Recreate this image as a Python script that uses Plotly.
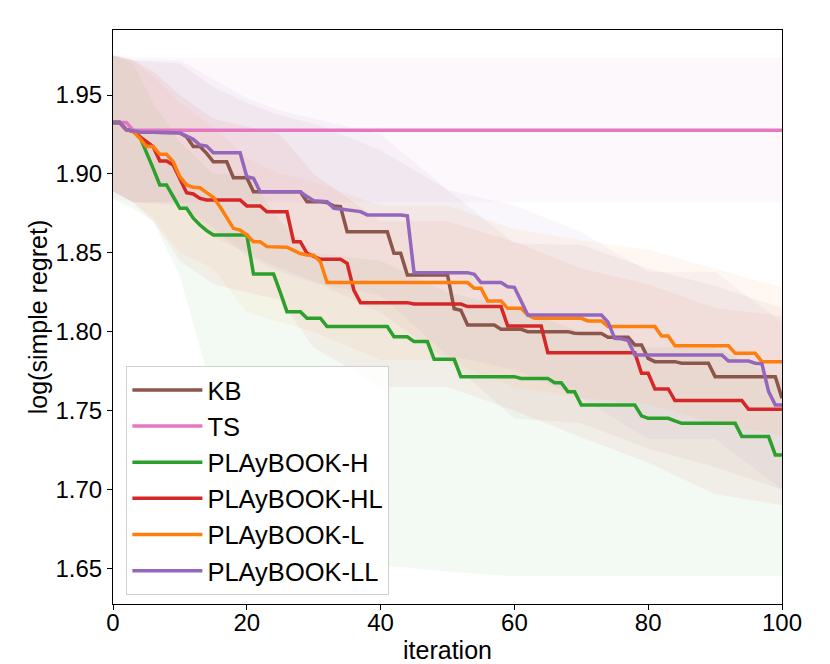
import plotly.graph_objs as go


# mean curves, (iteration, value) at the corners of each line
kb = [(0, 1.9325), (1, 1.9325), (2, 1.928), (3, 1.927), (4, 1.9265), (8, 1.9262), (10, 1.926),
      (11, 1.9236), (12, 1.9173), (13, 1.9173), (14, 1.913), (15, 1.9077), (17, 1.9077), (18, 1.8976),
      (20, 1.8976), (21, 1.8887), (28, 1.8887), (29, 1.8824), (31, 1.8824), (32, 1.8818), (33, 1.8797),
      (34, 1.8793), (35, 1.8634), (41, 1.8634), (42, 1.8497), (43, 1.8497), (44, 1.8359), (50, 1.8359),
      (51, 1.8145), (52, 1.8135), (53, 1.8042), (57, 1.8042), (58, 1.8015), (61, 1.8015), (62, 1.80),
      (68, 1.80), (69, 1.799), (70, 1.7988), (73, 1.7988), (74, 1.7964), (77, 1.7964), (78, 1.7916),
      (79, 1.7916), (80, 1.7831), (81, 1.781), (84, 1.781), (85, 1.78), (89, 1.78), (90, 1.7715),
      (99, 1.7715), (100, 1.7578)]

ts = [(0, 1.9325), (2, 1.9325), (3, 1.9277), (100, 1.9277)]

pb_h = [(0, 1.9325), (1, 1.9325), (2, 1.928), (3, 1.927), (4, 1.9236), (5, 1.9141), (6, 1.9035),
        (7, 1.893), (8, 1.893), (9, 1.8856), (10, 1.8782), (11, 1.8782), (12, 1.8719), (13, 1.8676),
        (14, 1.864), (15, 1.8613), (20, 1.8613), (21, 1.8366), (24, 1.8366), (25, 1.825), (26, 1.8127),
        (28, 1.8127), (29, 1.8085), (31, 1.8085), (32, 1.8032), (41, 1.8032), (42, 1.7968), (44, 1.7968),
        (45, 1.7937), (47, 1.7937), (48, 1.7825), (51, 1.7825), (52, 1.7715), (60, 1.7715), (61, 1.7704),
        (65, 1.7704), (66, 1.7677), (67, 1.7677), (68, 1.762), (69, 1.762), (70, 1.7535), (78, 1.7535),
        (79, 1.7466), (80, 1.7451), (83, 1.7451), (84, 1.7434), (85, 1.7419), (93, 1.7419), (94, 1.7335),
        (98, 1.7335), (99, 1.7219), (100, 1.7219)]

pb_hl = [(0, 1.9325), (1, 1.9325), (2, 1.928), (3, 1.927), (4, 1.9236), (5, 1.9204), (6, 1.9172),
         (7, 1.9082), (8, 1.9082), (9, 1.9056), (10, 1.8972), (11, 1.8881), (12, 1.8873), (13, 1.8845),
         (14, 1.8835), (19, 1.8835), (20, 1.8797), (22, 1.8797), (23, 1.876), (26, 1.876), (27, 1.857),
         (28, 1.857), (29, 1.8497), (30, 1.8475), (31, 1.8459), (34, 1.8459), (35, 1.8433), (36, 1.8264),
         (37, 1.8184), (44, 1.8184), (45, 1.8175), (52, 1.8175), (53, 1.8159), (58, 1.8159), (59, 1.8036),
         (64, 1.8036), (65, 1.7867), (78, 1.7867), (79, 1.7736), (80, 1.7736), (81, 1.7637), (83, 1.7637),
         (84, 1.7563), (94, 1.7563), (95, 1.7508), (100, 1.7508)]

pb_l = [(0, 1.9325), (1, 1.9325), (2, 1.928), (3, 1.927), (4, 1.9226), (5, 1.9173), (6, 1.9173),
        (7, 1.9124), (8, 1.9124), (9, 1.9077), (10, 1.8982), (11, 1.893), (12, 1.8915), (13, 1.8912),
        (14, 1.8881), (15, 1.8852), (16, 1.8792), (17, 1.8719), (18, 1.8655), (19, 1.8644), (20, 1.8613),
        (21, 1.857), (22, 1.857), (23, 1.8539), (26, 1.8535), (27, 1.8515), (28, 1.8495), (29, 1.8486),
        (30, 1.8484), (31, 1.8444), (32, 1.8311), (53, 1.8311), (54, 1.8275), (55, 1.8275), (56, 1.8195),
        (58, 1.8195), (59, 1.8148), (61, 1.8148), (62, 1.8106), (63, 1.8085), (70, 1.8085), (71, 1.8068),
        (73, 1.8068), (74, 1.8032), (81, 1.8032), (82, 1.7973), (83, 1.7973), (84, 1.7911), (92, 1.7911),
        (93, 1.7863), (96, 1.7863), (97, 1.781), (100, 1.781)]

pb_ll = [(0, 1.9325), (1, 1.9325), (2, 1.928), (3, 1.927), (4, 1.9265), (8, 1.9262), (10, 1.926),
         (11, 1.924), (12, 1.9219), (13, 1.9183), (14, 1.9176), (15, 1.9134), (19, 1.9134), (20, 1.8982),
         (21, 1.8972), (22, 1.8887), (28, 1.8887), (29, 1.8856), (30, 1.883), (32, 1.8824), (33, 1.8782),
         (34, 1.8778), (35, 1.8771), (36, 1.8765), (37, 1.8761), (38, 1.874), (43, 1.874), (44, 1.8734),
         (45, 1.8374), (53, 1.8374), (54, 1.8364), (55, 1.8311), (58, 1.8311), (59, 1.8285), (60, 1.8281),
         (61, 1.8195), (62, 1.8106), (73, 1.8106), (74, 1.806), (75, 1.7958), (76, 1.7955), (77, 1.7944),
         (78, 1.7852), (91, 1.7852), (92, 1.7814), (95, 1.7814), (96, 1.78), (97, 1.7796), (98, 1.762),
         (99, 1.7535), (100, 1.7535)]

# shaded spread, upper / lower edge at these iterations
band_x = [0, 3, 6, 10, 15, 20, 25, 30, 40, 50, 60, 70, 80, 90, 100]

kb_hi = [1.975, 1.972, 1.971, 1.970, 1.955, 1.945, 1.937, 1.932, 1.915, 1.89, 1.856, 1.855, 1.84, 1.829, 1.815]
kb_lo = [1.889, 1.882, 1.882, 1.882, 1.86, 1.85, 1.84, 1.832, 1.812, 1.782, 1.745, 1.742, 1.726, 1.714, 1.70]
ts_hi = [1.975, 1.974, 1.974, 1.974, 1.974, 1.974, 1.974, 1.974, 1.974, 1.974, 1.974, 1.974, 1.974, 1.974, 1.974]
ts_lo = [1.884, 1.882, 1.882, 1.882, 1.882, 1.882, 1.882, 1.882, 1.882, 1.882, 1.882, 1.882, 1.882, 1.882, 1.882]
h_hi = [1.975, 1.97, 1.945, 1.92, 1.90, 1.90, 1.87, 1.85, 1.845, 1.825, 1.815, 1.80, 1.79, 1.79, 1.77]
h_lo = [1.884, 1.878, 1.87, 1.835, 1.76, 1.69, 1.66, 1.655, 1.652, 1.648, 1.645, 1.645, 1.645, 1.645, 1.645]
hl_hi = [1.975, 1.972, 1.965, 1.95, 1.935, 1.93, 1.925, 1.90, 1.87, 1.87, 1.857, 1.84, 1.83, 1.815, 1.81]
hl_lo = [1.889, 1.882, 1.87, 1.845, 1.83, 1.825, 1.82, 1.79, 1.765, 1.765, 1.75, 1.733, 1.717, 1.697, 1.69]
l_hi = [1.975, 1.972, 1.962, 1.945, 1.93, 1.91, 1.90, 1.895, 1.88, 1.88, 1.865, 1.858, 1.852, 1.84, 1.828]
l_lo = [1.889, 1.882, 1.872, 1.85, 1.84, 1.812, 1.806, 1.80, 1.782, 1.782, 1.765, 1.758, 1.754, 1.742, 1.734]
ll_hi = [1.976, 1.972, 1.972, 1.972, 1.96, 1.948, 1.94, 1.935, 1.925, 1.89, 1.88, 1.863, 1.838, 1.838, 1.806]
ll_lo = [1.889, 1.882, 1.881, 1.88, 1.866, 1.848, 1.838, 1.831, 1.823, 1.785, 1.776, 1.758, 1.732, 1.732, 1.70]

y_ticks = [1.65, 1.70, 1.75, 1.80, 1.85, 1.90, 1.95]
x_ticks = [0, 20, 40, 60, 80, 100]

series = [
    ('KB', kb, kb_hi, kb_lo, (140, 86, 75)),
    ('TS', ts, ts_hi, ts_lo, (227, 119, 194)),
    ('PLAyBOOK-H', pb_h, h_hi, h_lo, (44, 160, 44)),
    ('PLAyBOOK-HL', pb_hl, hl_hi, hl_lo, (214, 39, 40)),
    ('PLAyBOOK-L', pb_l, l_hi, l_lo, (255, 127, 14)),
    ('PLAyBOOK-LL', pb_ll, ll_hi, ll_lo, (148, 103, 189)),
]

FONT = 'Liberation Sans, Arial, sans-serif'

fig = go.Figure()

# bands first so the lines sit on top
for name, pts, hi, lo, c in series:
    fig.add_trace(go.Scatter(x=band_x + band_x[::-1], y=hi + lo[::-1],
                             fill='toself', fillcolor='rgba(%d,%d,%d,0.055)' % c,
                             line=dict(width=0), mode='lines',
                             hoverinfo='skip', showlegend=False))

for name, pts, hi, lo, c in series:
    xs = [p[0] for p in pts]
    ys = [p[1] for p in pts]
    fig.add_trace(go.Scatter(x=xs, y=ys, mode='lines', name=name,
                             line=dict(color='rgb(%d,%d,%d)' % c, width=3.5)))

axis_style = dict(showline=True, linecolor='black', linewidth=1.2, mirror=True,
                  ticks='outside', ticklen=5, tickwidth=1.2, tickcolor='black',
                  showgrid=False, zeroline=False, automargin=False,
                  tickfont=dict(size=24, color='black', family=FONT))

# page body adds an 8px offset, so the figure is 8px smaller than the window
fig.update_layout(
    width=822, height=656,
    margin=dict(l=105, r=48, t=22, b=60),
    plot_bgcolor='white', paper_bgcolor='white',
    font=dict(family=FONT, color='black'),
    xaxis=dict(range=[0, 100], tickvals=x_ticks, ticklabelstandoff=-8,
               title=dict(text='iteration', font=dict(size=25), standoff=6), **axis_style),
    yaxis=dict(range=[1.6274, 1.9912], tickvals=y_ticks, tickformat='.2f',
               title=dict(text='log(simple regret)', font=dict(size=25), standoff=0), **axis_style),
    legend=dict(x=0.02, y=0.016, xanchor='left', yanchor='bottom', itemwidth=70,
                bgcolor='rgba(255,255,255,0.85)', bordercolor='#d0d0d0', borderwidth=1,
                font=dict(size=25.5, color='black', family=FONT)),
    showlegend=True,
)

fig.write_html("out.html")
